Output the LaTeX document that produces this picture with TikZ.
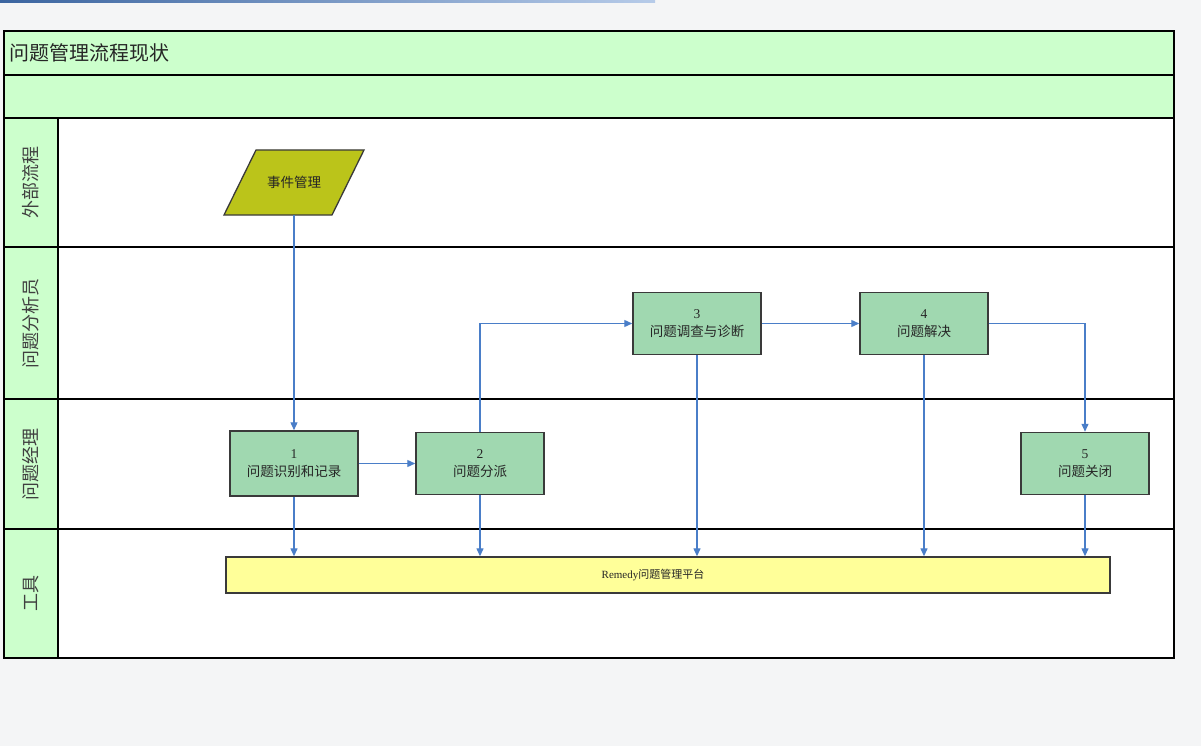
\documentclass[tikz,border=0pt]{standalone}
\usepackage{fontspec}
\setmainfont{Liberation Serif}
\newfontfamily\cjk{Noto Sans CJK SC}
\usetikzlibrary{arrows.meta}
\definecolor{bandgreen}{HTML}{CCFFCC}
\definecolor{boxgreen}{HTML}{A0D8B0}
\definecolor{olive}{HTML}{BBC41A}
\definecolor{tooly}{HTML}{FFFF99}
\definecolor{arrowblue}{HTML}{4A7EC8}
\definecolor{bg}{HTML}{F4F5F6}
\definecolor{edgegrey}{HTML}{3A3A3A}
\begin{document}
\begin{tikzpicture}[x=1pt,y=-1pt,
  frame/.style={draw=black,line width=1.3pt},
  stepbox/.style={draw=edgegrey,line width=1.5pt,fill=boxgreen,minimum width=128pt,minimum height=62pt,align=center,inner sep=0pt,font=\fontsize{13.5}{18}\selectfont,text=black!85},
  lanelabel/.style={rotate=90,font=\cjk\fontsize{18}{21}\selectfont,text=black!75},
  flow/.style={draw=arrowblue,line width=1.3pt,-{Triangle[length=8pt,width=7pt]}}]
\useasboundingbox (0,0) rectangle (1201,746);
\fill[bg] (0,0) rectangle (1201,746);
\fill[left color=arrowblue!80!black,right color=arrowblue!40] (0,0) rectangle (655,2.5);
% bands
\fill[bandgreen] (4,31) rectangle (1174,118);
\fill[bandgreen] (4,118) rectangle (58,658);
\fill[white] (58,118) rectangle (1174,658);
\draw[frame] (4,31) rectangle (1174,658);
\draw[frame] (4,75) -- (1174,75);
\draw[frame] (4,118) -- (1174,118);
\draw[frame] (4,247) -- (1174,247);
\draw[frame] (4,399) -- (1174,399);
\draw[frame] (4,529) -- (1174,529);
\draw[frame] (58,118) -- (58,658);
\node[anchor=west,font=\cjk\fontsize{20}{24}\selectfont,text=black!85,inner sep=0pt] (title) at (9,53) {问题管理流程现状};
\node[lanelabel] (l1) at (31,182.5) {外部流程};
\node[lanelabel] (l2) at (31,323) {问题分析员};
\node[lanelabel] (l3) at (31,464) {问题经理};
\node[lanelabel] (l4) at (31,593.5) {工具};
% parallelogram
\draw[fill=olive,draw=edgegrey,line width=1.3pt] (256,150) -- (364,150) -- (332,215) -- (224,215) -- cycle;
\node[minimum width=76pt,minimum height=65pt,inner sep=0pt,font=\cjk\fontsize{13.5}{17}\selectfont,text=black!85] (ev) at (294,182.5) {事件管理};
% steps
\node[stepbox,minimum height=65pt] (s1) at (294,463.5) {1\\{\cjk 问题识别和记录}};
\node[stepbox] (s2) at (480,463.5) {2\\{\cjk 问题分派}};
\node[stepbox] (s3) at (697,323.5) {3\\{\cjk 问题调查与诊断}};
\node[stepbox] (s4) at (924,323.5) {4\\{\cjk 问题解决}};
\node[stepbox] (s5) at (1085,463.5) {5\\{\cjk 问题关闭}};
\node[draw=edgegrey,line width=1.4pt,fill=tooly,minimum width=884pt,minimum height=36pt,inner sep=0pt] (tool) at (668,575) {};
\node[font=\fontsize{11}{13}\selectfont,inner sep=0pt,text=black!85] (tooltxt) at (653,575) {Remedy{\cjk 问题管理平台}};
% connectors
\draw[flow] (ev.south) -- (s1.north);
\draw[flow] (s1.east) -- (s2.west);
\draw[flow] (s2.north) |- (s3.west);
\draw[flow] (s3.east) -- (s4.west);
\draw[flow] (s4.east) -| (s5.north);
\draw[flow] (s1.south) -- (s1.south |- tool.north);
\draw[flow] (s2.south) -- (s2.south |- tool.north);
\draw[flow] (s3.south) -- (s3.south |- tool.north);
\draw[flow] (s4.south) -- (s4.south |- tool.north);
\draw[flow] (s5.south) -- (s5.south |- tool.north);
\end{tikzpicture}
\end{document}
